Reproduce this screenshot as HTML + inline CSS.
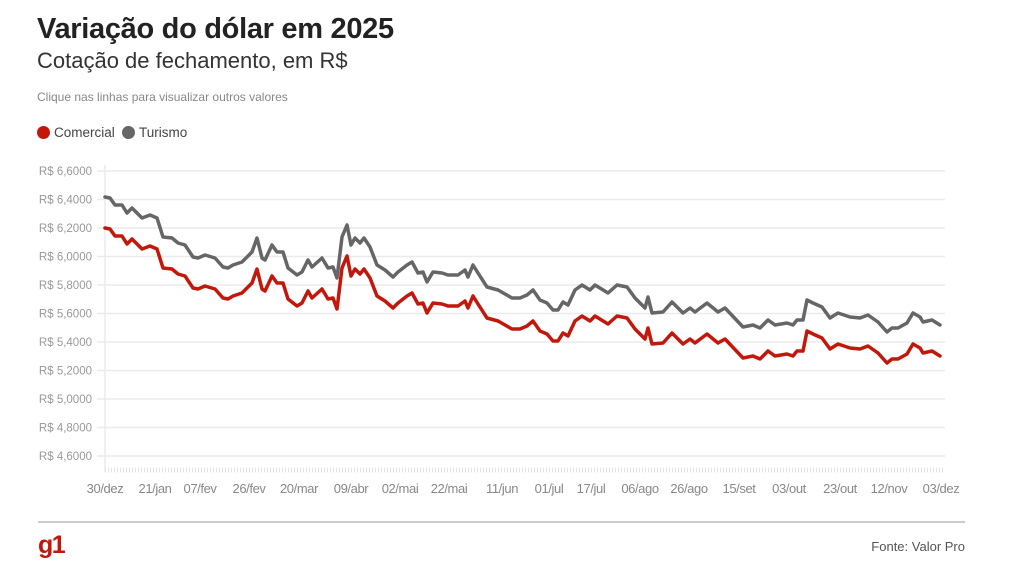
<!DOCTYPE html>
<html><head><meta charset="utf-8"><style>
body{margin:0;width:1024px;height:584px;background:#fff;font-family:"Liberation Sans",sans-serif;overflow:hidden;position:relative}
.t{position:absolute;left:37px;top:13px;font-size:29px;font-weight:bold;color:#222;letter-spacing:-0.3px}
.s{position:absolute;left:37px;top:48px;font-size:22px;color:#333}
.n{position:absolute;left:37px;top:90px;font-size:12px;color:#888}
.lg{position:absolute;top:125px;font-size:13.5px;color:#444}
.dot{display:inline-block;width:13px;height:13px;border-radius:50%;vertical-align:-2px;margin-right:4px}
</style></head><body>
<div class="t">Variação do dólar em 2025</div>
<div class="s">Cotação de fechamento, em R$</div>
<div class="n">Clique nas linhas para visualizar outros valores</div>
<div class="lg" style="left:37px"><span class="dot" style="background:#c4170c"></span>Comercial</div>
<div class="lg" style="left:122px"><span class="dot" style="background:#666"></span>Turismo</div>
<svg width="1024" height="584" style="position:absolute;left:0;top:0">
<g stroke="#ebebeb" stroke-width="1.5">
<line x1="97" x2="945" y1="171" y2="171"/><line x1="97" x2="945" y1="199.5" y2="199.5"/><line x1="97" x2="945" y1="228" y2="228"/><line x1="97" x2="945" y1="256.5" y2="256.5"/><line x1="97" x2="945" y1="285" y2="285"/><line x1="97" x2="945" y1="313.5" y2="313.5"/><line x1="97" x2="945" y1="342" y2="342"/><line x1="97" x2="945" y1="370.5" y2="370.5"/><line x1="97" x2="945" y1="399" y2="399"/><line x1="97" x2="945" y1="427.5" y2="427.5"/><line x1="97" x2="945" y1="456" y2="456"/>
<line x1="105" x2="105" y1="165" y2="472"/>
</g>
<line x1="105" x2="945" y1="470" y2="470" stroke="#e2e2e2" stroke-width="5" stroke-dasharray="1 2"/>
<g font-size="11.5" fill="#999" text-anchor="end">
<text x="92" y="175">R$ 6,6000</text><text x="92" y="203.5">R$ 6,4000</text><text x="92" y="232">R$ 6,2000</text><text x="92" y="260.5">R$ 6,0000</text><text x="92" y="289">R$ 5,8000</text><text x="92" y="317.5">R$ 5,6000</text><text x="92" y="346">R$ 5,4000</text><text x="92" y="374.5">R$ 5,2000</text><text x="92" y="403">R$ 5,0000</text><text x="92" y="431.5">R$ 4,8000</text><text x="92" y="460">R$ 4,6000</text>
</g>
<g font-size="13" fill="#888" text-anchor="middle" letter-spacing="-0.4">
<text x="105" y="493">30/dez</text><text x="155" y="493">21/jan</text><text x="200" y="493">07/fev</text><text x="249" y="493">26/fev</text><text x="299" y="493">20/mar</text><text x="351" y="493">09/abr</text><text x="400" y="493">02/mai</text><text x="449" y="493">22/mai</text><text x="502" y="493">11/jun</text><text x="549" y="493">01/jul</text><text x="591" y="493">17/jul</text><text x="640" y="493">06/ago</text><text x="689" y="493">26/ago</text><text x="739" y="493">15/set</text><text x="789" y="493">03/out</text><text x="840" y="493">23/out</text><text x="889" y="493">12/nov</text><text x="941" y="493">03/dez</text>
</g>
<defs>
<polyline id="p1" points="105,197 110,198 115,205 122,205 127,213 132,208 142,218 150,215 157,218 163,237 172,238 178,243 185,245 193,257 198,258 205,255 215,258 223,267 228,268 233,265 242,262 252,252 257,238 262,258 265,260 272,245 277,252 283,252 288,268 297,275 302,272 308,260 312,267 322,258 328,268 333,267 337,278 342,237 347,225 351,245 355,238 360,243 364,238 370,247 377,265 385,270 393,277 398,272 407,265 412,262 418,273 423,272 427,282 433,272 442,273 448,275 458,275 465,270 468,277 473,265 478,273 487,287 498,290 512,298 520,298 527,295 533,290 540,300 547,303 553,310 558,310 563,302 568,305 575,290 582,285 590,290 595,285 608,293 617,285 627,287 635,298 645,308 648,297 652,313 663,312 672,302 683,313 690,308 695,312 707,303 718,312 725,308 743,327 753,325 760,328 768,320 775,325 787,323 793,325 797,320 803,320 807,300 813,303 822,307 830,318 838,313 850,317 860,318 868,315 878,322 887,332 892,328 898,328 907,323 913,313 920,317 923,322 932,320 940,325"/>
</defs>
<g fill="none" stroke-width="3.5" stroke-linejoin="round" stroke-linecap="round">
<use href="#p1" stroke="#666"/>
<use href="#p1" stroke="#c4170c" transform="translate(0,31)"/>
</g>
<line x1="38" x2="965" y1="522" y2="522" stroke="#ccc" stroke-width="2"/>
<text x="38" y="553" font-size="25" font-weight="bold" fill="#c4170c" letter-spacing="-1.5">g1</text>
<text x="965" y="551" font-size="13" fill="#555" text-anchor="end">Fonte: Valor Pro</text>
</svg>
</body></html>
